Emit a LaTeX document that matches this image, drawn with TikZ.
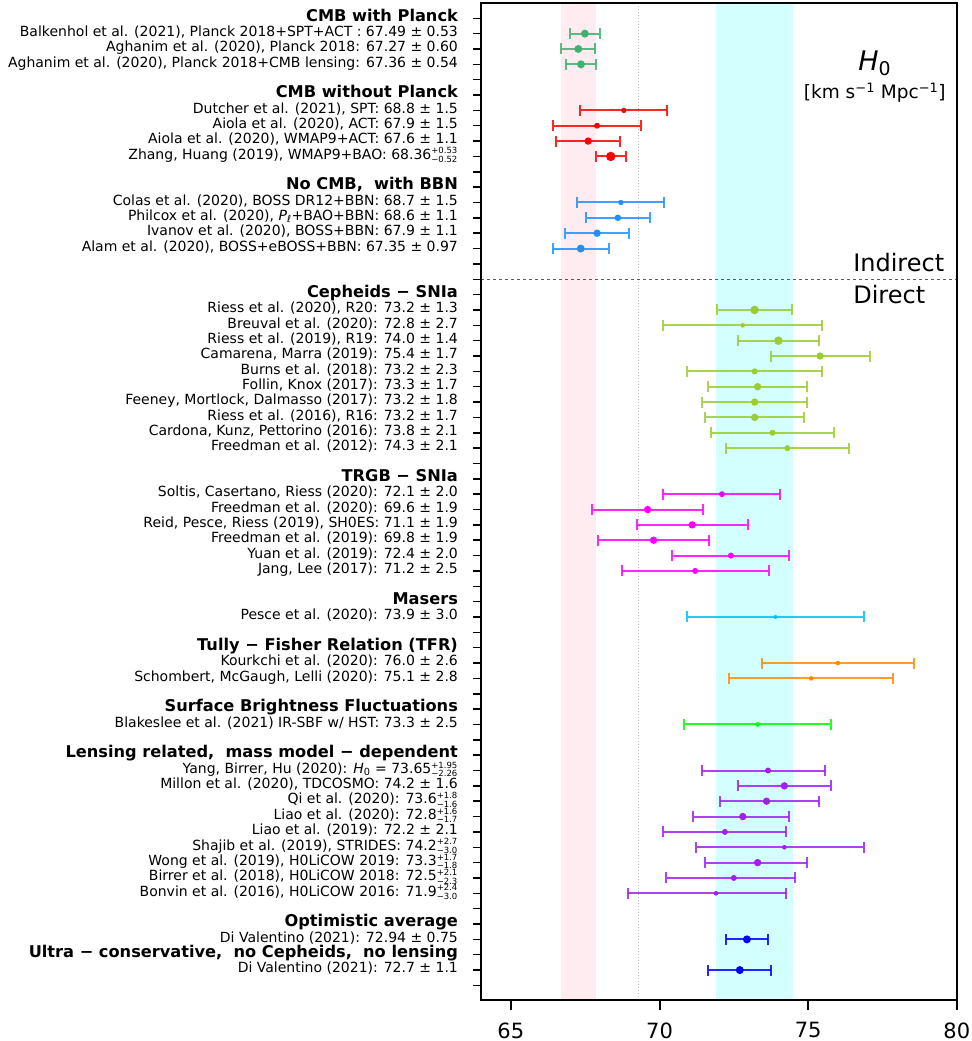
\documentclass[tikz,border=0pt]{standalone}
\usepackage{fontspec}
\setmainfont{DejaVu Sans}
\usepackage{amsmath}
\usetikzlibrary{arrows.meta, positioning}

\definecolor{cmbgreen}{RGB}{60,179,113}
\definecolor{cmbred}{RGB}{255,0,0}
\definecolor{bbnblue}{RGB}{30,144,255}
\definecolor{cephgreen}{RGB}{154,205,50}
\definecolor{trgbpink}{RGB}{255,0,255}
\definecolor{maserblue}{RGB}{0,191,255}
\definecolor{tfrorange}{RGB}{255,140,0}
\definecolor{sbfgreen}{RGB}{0,255,0}
\definecolor{lensviolet}{RGB}{160,32,240}
\definecolor{avgblue}{RGB}{0,0,255}
\definecolor{pinkband}{RGB}{255,236,240}
\definecolor{cyanband}{RGB}{212,255,255}

\newcommand{\asym}[2]{\ensuremath{^{\text{\fontsize{8.5}{9}\selectfont#1}}_{\text{\fontsize{8.5}{9}\selectfont#2}}}}

\tikzstyle{lbl} = [anchor=mid east, inner sep=0pt, xshift=-23pt, font=\fontsize{14}{16}\selectfont]
\tikzstyle{hdr} = [anchor=mid east, inner sep=0pt, xshift=-23pt, font=\fontsize{16.2}{18}\selectfont\bfseries]
\tikzstyle{errbar} = [line width=2pt, draw opacity=0.85, {Bar[width=11pt]}-{Bar[width=11pt]}]
\tikzstyle{dot} = [circle, inner sep=0pt, draw=none]
\tikzstyle{tcklbl} = [anchor=north, inner sep=0pt, yshift=-11.5pt, font=\fontsize{21}{24}\selectfont]

\begin{document}
\begin{tikzpicture}[x=29.73pt, y=-15.35pt]

\useasboundingbox (47.82,-0.19) rectangle (80.48,67.62);

% bands and guide lines
\fill [pinkband] (66.68,0) rectangle (67.88,64.95);
\fill [cyanband] (71.9,0) rectangle (74.5,64.95);
\draw [black!25, dotted, line width=1pt] (69.3,0) -- (69.3,64.95);
\draw [black!65, dashed, line width=1.3pt] (64,18) -- (80,18);

% axes
\draw [line width=2pt] (64,0) rectangle (80,64.95);
\foreach \k in {1,...,64}
  \draw [line width=1.5pt] (64,\k) -- ++(-8pt,0);
\foreach \v in {65,70,75,80}
  \draw [line width=2pt] (\v,64.95) -- ++(0,-10pt) node (x\v) [tcklbl] {\v};

\node (hzero) [anchor=base west, inner sep=0pt, font=\fontsize{27}{30}\selectfont] at (76.68,4.37) {\textit{H}\textsubscript{0}};
\node (hunit) [below=7pt of hzero, inner sep=0pt, font=\fontsize{18.5}{20}\selectfont] {[km s\textsuperscript{−1} Mpc\textsuperscript{−1}]};
\node (indirect) [anchor=base west, inner sep=0pt, font=\fontsize{24}{28}\selectfont] at (76.51,17.51) {Indirect};
\node (direct) [anchor=base west, inner sep=0pt, font=\fontsize{24}{28}\selectfont] at (76.51,19.55) {Direct};

% CMB with Planck
\node (cmbplanck) [hdr] at (64,1) {CMB with Planck};
\node (balkenhol) [lbl] at (64,2) {Balkenhol et al. (2021), Planck 2018+SPT+ACT : 67.49 ± 0.53};
\node (aghanim) [lbl] at (64,3) {Aghanim et al. (2020), Planck 2018: 67.27 ± 0.60};
\node (aghaniml) [lbl] at (64,4) {Aghanim et al. (2020), Planck 2018+CMB lensing: 67.36 ± 0.54};
\draw [errbar, cmbgreen] (67.49-0.53,2) -- (67.49+0.53,2);
\draw [errbar, cmbgreen] (67.27-0.60,3) -- (67.27+0.60,3);
\draw [errbar, cmbgreen] (67.36-0.54,4) -- (67.36+0.54,4);
\node (balkenholpt) [dot, fill=cmbgreen, minimum size=8pt] at (67.49,2) {};
\node (aghaninpt) [dot, fill=cmbgreen, minimum size=8pt] at (67.27,3) {};
\node (aghaninlpt) [dot, fill=cmbgreen, minimum size=8pt] at (67.36,4) {};

% CMB without Planck
\node (cmbnoplanck) [hdr] at (64,6) {CMB without Planck};
\node (dutcher) [lbl] at (64,7) {Dutcher et al. (2021), SPT: 68.8 ± 1.5};
\node (aiolaact) [lbl] at (64,8) {Aiola et al. (2020), ACT: 67.9 ± 1.5};
\node (aiolawmap) [lbl] at (64,9) {Aiola et al. (2020), WMAP9+ACT: 67.6 ± 1.1};
\node (zhang) [lbl] at (64,10) {Zhang, Huang (2019), WMAP9+BAO: 68.36\asym{+0.53}{−0.52}};
\draw [errbar, cmbred] (68.8-1.5,7) -- (68.8+1.5,7);
\draw [errbar, cmbred] (67.9-1.5,8) -- (67.9+1.5,8);
\draw [errbar, cmbred] (67.6-1.1,9) -- (67.6+1.1,9);
\draw [errbar, cmbred] (68.36-0.52,10) -- (68.36+0.53,10);
\node (dutcherpt) [dot, fill=cmbred, minimum size=5.4pt] at (68.8,7) {};
\node (aiolaactpt) [dot, fill=cmbred, minimum size=6pt] at (67.9,8) {};
\node (aiolawmappt) [dot, fill=cmbred, minimum size=7.4pt] at (67.6,9) {};
\node (zhangpt) [dot, fill=cmbred, minimum size=9.4pt] at (68.36,10) {};

% No CMB, with BBN
\node (nocmb) [hdr] at (64,12) {No CMB,~ with BBN};
\node (colas) [lbl] at (64,13) {Colas et al. (2020), BOSS DR12+BBN: 68.7 ± 1.5};
\node (philcox) [lbl] at (64,14) {Philcox et al. (2020), \textit{P}\textsubscript{\textit{ℓ}}+BAO+BBN: 68.6 ± 1.1};
\node (ivanov) [lbl] at (64,15) {Ivanov et al. (2020), BOSS+BBN: 67.9 ± 1.1};
\node (alam) [lbl] at (64,16) {Alam et al. (2020), BOSS+eBOSS+BBN: 67.35 ± 0.97};
\draw [errbar, bbnblue] (68.7-1.5,13) -- (68.7+1.5,13);
\draw [errbar, bbnblue] (68.6-1.1,14) -- (68.6+1.1,14);
\draw [errbar, bbnblue] (67.9-1.1,15) -- (67.9+1.1,15);
\draw [errbar, bbnblue] (67.35-0.97,16) -- (67.35+0.97,16);
\node (colaspt) [dot, fill=bbnblue, minimum size=5.4pt] at (68.7,13) {};
\node (philcoxpt) [dot, fill=bbnblue, minimum size=6.6pt] at (68.6,14) {};
\node (ivanovpt) [dot, fill=bbnblue, minimum size=7.4pt] at (67.9,15) {};
\node (alampt) [dot, fill=bbnblue, minimum size=8pt] at (67.35,16) {};

% Cepheids - SNIa
\node (cepheids) [hdr] at (64,19) {Cepheids − SNIa};
\node (riess20) [lbl] at (64,20) {Riess et al. (2020), R20: 73.2 ± 1.3};
\node (breuval) [lbl] at (64,21) {Breuval et al. (2020): 72.8 ± 2.7};
\node (riess19) [lbl] at (64,22) {Riess et al. (2019), R19: 74.0 ± 1.4};
\node (camarena) [lbl] at (64,23) {Camarena, Marra (2019): 75.4 ± 1.7};
\node (burns) [lbl] at (64,24) {Burns et al. (2018): 73.2 ± 2.3};
\node (follin) [lbl] at (64,25) {Follin, Knox (2017): 73.3 ± 1.7};
\node (feeney) [lbl] at (64,26) {Feeney, Mortlock, Dalmasso (2017): 73.2 ± 1.8};
\node (riess16) [lbl] at (64,27) {Riess et al. (2016), R16: 73.2 ± 1.7};
\node (cardona) [lbl] at (64,28) {Cardona, Kunz, Pettorino (2016): 73.8 ± 2.1};
\node (freedman12) [lbl] at (64,29) {Freedman et al. (2012): 74.3 ± 2.1};
\draw [errbar, cephgreen] (73.2-1.3,20) -- (73.2+1.3,20);
\draw [errbar, cephgreen] (72.8-2.7,21) -- (72.8+2.7,21);
\draw [errbar, cephgreen] (74.0-1.4,22) -- (74.0+1.4,22);
\draw [errbar, cephgreen] (75.4-1.7,23) -- (75.4+1.7,23);
\draw [errbar, cephgreen] (73.2-2.3,24) -- (73.2+2.3,24);
\draw [errbar, cephgreen] (73.3-1.7,25) -- (73.3+1.7,25);
\draw [errbar, cephgreen] (73.2-1.8,26) -- (73.2+1.8,26);
\draw [errbar, cephgreen] (73.2-1.7,27) -- (73.2+1.7,27);
\draw [errbar, cephgreen] (73.8-2.1,28) -- (73.8+2.1,28);
\draw [errbar, cephgreen] (74.3-2.1,29) -- (74.3+2.1,29);
\node (riess20pt) [dot, fill=cephgreen, minimum size=8.6pt] at (73.2,20) {};
\node (breuvalpt) [dot, fill=cephgreen, minimum size=4.6pt] at (72.8,21) {};
\node (riess19pt) [dot, fill=cephgreen, minimum size=8.6pt] at (74.0,22) {};
\node (camarenapt) [dot, fill=cephgreen, minimum size=7.4pt] at (75.4,23) {};
\node (burnspt) [dot, fill=cephgreen, minimum size=6pt] at (73.2,24) {};
\node (follinpt) [dot, fill=cephgreen, minimum size=7.4pt] at (73.3,25) {};
\node (feeneypt) [dot, fill=cephgreen, minimum size=7.4pt] at (73.2,26) {};
\node (riess16pt) [dot, fill=cephgreen, minimum size=7.4pt] at (73.2,27) {};
\node (cardonapt) [dot, fill=cephgreen, minimum size=6pt] at (73.8,28) {};
\node (freedman12pt) [dot, fill=cephgreen, minimum size=6pt] at (74.3,29) {};

% TRGB - SNIa
\node (trgb) [hdr] at (64,31) {TRGB − SNIa};
\node (soltis) [lbl] at (64,32) {Soltis, Casertano, Riess (2020): 72.1 ± 2.0};
\node (freedman20) [lbl] at (64,33) {Freedman et al. (2020): 69.6 ± 1.9};
\node (reid) [lbl] at (64,34) {Reid, Pesce, Riess (2019), SH0ES: 71.1 ± 1.9};
\node (freedman19) [lbl] at (64,35) {Freedman et al. (2019): 69.8 ± 1.9};
\node (yuan) [lbl] at (64,36) {Yuan et al. (2019): 72.4 ± 2.0};
\node (jang) [lbl] at (64,37) {Jang, Lee (2017): 71.2 ± 2.5};
\draw [errbar, trgbpink] (72.1-2.0,32) -- (72.1+2.0,32);
\draw [errbar, trgbpink] (69.6-1.9,33) -- (69.6+1.9,33);
\draw [errbar, trgbpink] (71.1-1.9,34) -- (71.1+1.9,34);
\draw [errbar, trgbpink] (69.8-1.9,35) -- (69.8+1.9,35);
\draw [errbar, trgbpink] (72.4-2.0,36) -- (72.4+2.0,36);
\draw [errbar, trgbpink] (71.2-2.5,37) -- (71.2+2.5,37);
\node (soltispt) [dot, fill=trgbpink, minimum size=6pt] at (72.1,32) {};
\node (freedman20pt) [dot, fill=trgbpink, minimum size=7.4pt] at (69.6,33) {};
\node (reidpt) [dot, fill=trgbpink, minimum size=7.4pt] at (71.1,34) {};
\node (freedman19pt) [dot, fill=trgbpink, minimum size=7.4pt] at (69.8,35) {};
\node (yuanpt) [dot, fill=trgbpink, minimum size=6pt] at (72.4,36) {};
\node (jangpt) [dot, fill=trgbpink, minimum size=6pt] at (71.2,37) {};

% Masers
\node (masers) [hdr] at (64,39) {Masers};
\node (pesce) [lbl] at (64,40) {Pesce et al. (2020): 73.9 ± 3.0};
\draw [errbar, maserblue] (73.9-3.0,40) -- (73.9+3.0,40);
\node (pescept) [dot, fill=maserblue, minimum size=4pt] at (73.9,40) {};

% Tully-Fisher
\node (tfr) [hdr] at (64,42) {Tully − Fisher Relation (TFR)};
\node (kourkchi) [lbl] at (64,43) {Kourkchi et al. (2020): 76.0 ± 2.6};
\node (schombert) [lbl] at (64,44) {Schombert, McGaugh, Lelli (2020): 75.1 ± 2.8};
\draw [errbar, tfrorange] (76.0-2.6,43) -- (76.0+2.6,43);
\draw [errbar, tfrorange] (75.1-2.8,44) -- (75.1+2.8,44);
\node (kourkchipt) [dot, fill=tfrorange, minimum size=4.6pt] at (76.0,43) {};
\node (schombertpt) [dot, fill=tfrorange, minimum size=4.6pt] at (75.1,44) {};

% Surface brightness fluctuations
\node (sbf) [hdr] at (64,46) {Surface Brightness Fluctuations};
\node (blakeslee) [lbl] at (64,47) {Blakeslee et al. (2021) IR-SBF w/ HST: 73.3 ± 2.5};
\draw [errbar, sbfgreen] (73.3-2.5,47) -- (73.3+2.5,47);
\node (blakesleept) [dot, fill=sbfgreen, minimum size=4.6pt] at (73.3,47) {};

% Lensing
\node (lensing) [hdr] at (64,49) {Lensing related,~ mass model − dependent};
\node (yang) [lbl] at (64,50) {Yang, Birrer, Hu (2020): \textit{H}\textsubscript{0} = 73.65\asym{+1.95}{−2.26}};
\node (millon) [lbl] at (64,51) {Millon et al. (2020), TDCOSMO: 74.2 ± 1.6};
\node (qi) [lbl] at (64,52) {Qi et al. (2020): 73.6\asym{+1.8}{−1.6}};
\node (liao20) [lbl] at (64,53) {Liao et al. (2020): 72.8\asym{+1.6}{−1.7}};
\node (liao19) [lbl] at (64,54) {Liao et al. (2019): 72.2 ± 2.1};
\node (shajib) [lbl] at (64,55) {Shajib et al. (2019), STRIDES: 74.2\asym{+2.7}{−3.0}};
\node (wong) [lbl] at (64,56) {Wong et al. (2019), H0LiCOW 2019: 73.3\asym{+1.7}{−1.8}};
\node (birrer) [lbl] at (64,57) {Birrer et al. (2018), H0LiCOW 2018: 72.5\asym{+2.1}{−2.3}};
\node (bonvin) [lbl] at (64,58) {Bonvin et al. (2016), H0LiCOW 2016: 71.9\asym{+2.4}{−3.0}};
\draw [errbar, lensviolet] (73.65-2.26,50) -- (73.65+1.95,50);
\draw [errbar, lensviolet] (74.2-1.6,51) -- (74.2+1.6,51);
\draw [errbar, lensviolet] (73.6-1.6,52) -- (73.6+1.8,52);
\draw [errbar, lensviolet] (72.8-1.7,53) -- (72.8+1.6,53);
\draw [errbar, lensviolet] (72.2-2.1,54) -- (72.2+2.1,54);
\draw [errbar, lensviolet] (74.2-3.0,55) -- (74.2+2.7,55);
\draw [errbar, lensviolet] (73.3-1.8,56) -- (73.3+1.7,56);
\draw [errbar, lensviolet] (72.5-2.3,57) -- (72.5+2.1,57);
\draw [errbar, lensviolet] (71.9-3.0,58) -- (71.9+2.4,58);
\node (yangpt) [dot, fill=lensviolet, minimum size=6pt] at (73.65,50) {};
\node (millonpt) [dot, fill=lensviolet, minimum size=7.4pt] at (74.2,51) {};
\node (qipt) [dot, fill=lensviolet, minimum size=7.4pt] at (73.6,52) {};
\node (liao20pt) [dot, fill=lensviolet, minimum size=7.4pt] at (72.8,53) {};
\node (liao19pt) [dot, fill=lensviolet, minimum size=6pt] at (72.2,54) {};
\node (shajibpt) [dot, fill=lensviolet, minimum size=4.6pt] at (74.2,55) {};
\node (wongpt) [dot, fill=lensviolet, minimum size=7.4pt] at (73.3,56) {};
\node (birrerpt) [dot, fill=lensviolet, minimum size=6pt] at (72.5,57) {};
\node (bonvinpt) [dot, fill=lensviolet, minimum size=4.6pt] at (71.9,58) {};

% averages
\node (optimistic) [hdr] at (64,60) {Optimistic average};
\node (dvopt) [lbl] at (64,61) {Di Valentino (2021): 72.94 ± 0.75};
\node (ultra) [hdr] at (64,62) {Ultra − conservative,~ no Cepheids,~ no lensing};
\node (dvcons) [lbl] at (64,63) {Di Valentino (2021): 72.7 ± 1.1};
\draw [errbar, avgblue] (72.94-0.75,61) -- (72.94+0.75,61);
\draw [errbar, avgblue] (72.7-1.1,63) -- (72.7+1.1,63);
\node (dvoptpt) [dot, fill=avgblue, minimum size=8pt] at (72.94,61) {};
\node (dvconspt) [dot, fill=avgblue, minimum size=8pt] at (72.7,63) {};

\end{tikzpicture}
\end{document}
